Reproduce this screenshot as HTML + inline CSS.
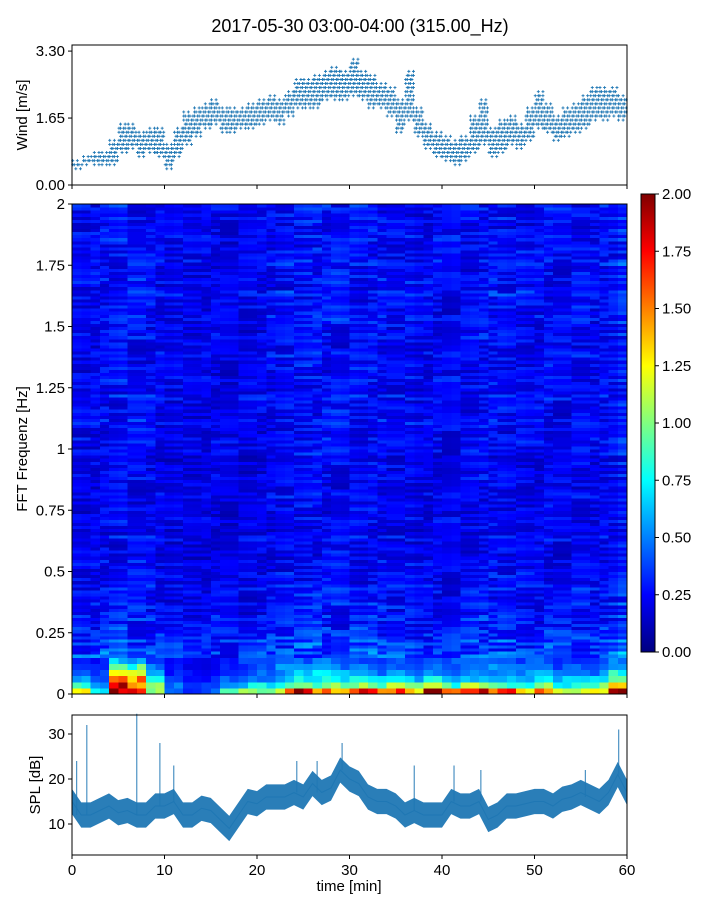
<!DOCTYPE html>
<html><head><meta charset="utf-8"><style>
body{margin:0;background:#fff;}
svg{display:block;font-family:"Liberation Sans","DejaVu Sans",sans-serif;}
</style></head><body>
<svg id="fig" width="720" height="900" viewBox="0 0 720 900" xmlns="http://www.w3.org/2000/svg">
<rect width="720" height="900" fill="#fff"/>
<text x="360" y="32" font-size="18" text-anchor="middle" fill="#000">2017-05-30 03:00-04:00 (315.00_Hz)</text>
<g id="wind"></g>
<g id="spec"></g>
<g id="cbar"></g>
<g id="spl"></g>
</svg>
<script>
// ---- data ----
const windMid=[0.5,0.6,0.6,0.65,0.8,1.1,1.2,1.0,1.1,1.0,0.7,1.0,1.4,1.5,1.7,1.75,1.6,1.55,1.65,1.7,1.8,1.9,1.8,2.0,2.2,2.2,2.3,2.4,2.5,2.4,2.6,2.4,2.3,2.2,2.0,1.7,2.2,1.5,1.2,1.0,0.9,0.8,0.9,1.2,1.5,1.0,1.2,1.3,1.2,1.5,1.8,1.6,1.4,1.5,1.6,1.8,2.0,2.0,2.0,1.9];
const windHalf=[0.1,0.1,0.15,0.15,0.3,0.35,0.3,0.3,0.3,0.35,0.35,0.35,0.4,0.35,0.3,0.3,0.3,0.3,0.25,0.3,0.3,0.3,0.3,0.3,0.35,0.35,0.35,0.35,0.4,0.35,0.45,0.35,0.35,0.3,0.35,0.4,0.6,0.35,0.35,0.3,0.3,0.3,0.3,0.45,0.55,0.35,0.4,0.35,0.35,0.4,0.45,0.35,0.3,0.35,0.35,0.4,0.4,0.4,0.35,0.3];
const splMin=[0,1,2,3,4,5,6,7,8,9,10,11,12,13,14,15,16,17,18,19,20,21,22,23,24,25,26,27,28,29,30,31,32,33,34,35,36,37,38,39,40,41,42,43,44,45,46,47,48,49,50,51,52,53,54,55,56,57,58,59,60];
const splMean=[15,12,12,13,14,12.5,13,12,12,14,14,15,12,12,13.5,13,11,9,12,15,14.5,16,16,16,17,16,19,17,18,22,20,19,16,15,15,14,12,13,12,12,12,15,14,14,15,11,12,14,14,14.5,15,15,14,15.5,16,17,16,15,17,21,17];
const splSpikeT=[0.5,1.6,7.0,9.5,11,24.3,26.5,29.2,37,41.3,44.2,55.5,59.1];
const splSpikeV=[24,32,34.5,28,23,24,24,28,23,23,22,22,31];
const freqTicks=[0,0.25,0.5,0.75,1,1.25,1.5,1.75,2];
const freqTickLabels=["0","0.25","0.5","0.75","1","1.25","1.5","1.75","2"];
const cbarTicks=["0.00","0.25","0.50","0.75","1.00","1.25","1.50","1.75","2.00"];
const row0=[1.1,0.8,2.0,2.0,1.0,0.5,0.3,0.4,0.8,1.0,0.9,1.4,1.9,1.6,1.5,1.9,1.6,1.7,1.3,1.9,1.4,1.6,1.8,1.5,1.4,1.6,1.3,1.1,1.4,1.9];
const row1=[0.9,0.6,1.8,1.6,1.0,0.45,0.3,0.35,0.5,0.7,0.7,0.9,1.1,1.0,1.0,1.1,0.9,1.0,0.9,1.1,0.9,1.0,1.1,0.9,0.9,1.0,0.8,0.8,0.9,1.2];
const row2=[0.55,0.45,1.5,1.4,0.7,0.35,0.25,0.3,0.4,0.5,0.5,0.65,0.75,0.8,0.7,0.7,0.65,0.7,0.65,0.7,0.65,0.65,0.7,0.6,0.65,0.7,0.6,0.6,0.65,0.9];
const row3=[0.4,0.35,1.1,1.1,0.55,0.3,0.25,0.25,0.35,0.4,0.45,0.55,0.65,0.65,0.6,0.55,0.5,0.5,0.5,0.55,0.5,0.5,0.55,0.5,0.5,0.55,0.45,0.45,0.5,0.75];
const row4=[0.3,0.3,0.9,0.9,0.45,0.3,0.22,0.22,0.3,0.35,0.4,0.5,0.5,0.55,0.5,0.45,0.45,0.45,0.45,0.45,0.45,0.45,0.5,0.45,0.45,0.45,0.4,0.4,0.45,0.6];
const row5=[0.28,0.28,0.6,0.6,0.38,0.28,0.22,0.22,0.28,0.35,0.35,0.42,0.45,0.45,0.45,0.4,0.4,0.4,0.4,0.4,0.4,0.4,0.42,0.4,0.4,0.4,0.36,0.36,0.4,0.5];
const rowBase=[0.38,0.34,0.35,0.31,
0.29,0.26,0.29,0.24,0.27,0.23,0.25,0.27,0.22,0.24,
0.21,0.24,0.19,0.22,0.2,0.25,0.18,0.21,0.23,0.19,0.22,0.2,0.24,0.19,0.21,0.23,0.2,0.22,0.18,0.24,
0.22,0.25,0.2,0.23,0.26,0.21,0.24,0.22,0.27,0.2,0.23,0.25,0.21,0.24,0.22,0.26,0.2,0.23,0.25,0.22,
0.24,0.27,0.22,0.25,0.23,0.28,0.21,0.26,0.24,0.22,0.27,0.23,0.25,0.22,0.26,0.24,0.21,0.25,0.23,0.26];
const colGain=[1.0,0.95,1.0,1.05,1.1,1.15,1.1,1.1,1.05,0.95,0.9,0.95,0.9,0.88,0.9,0.92,0.9,0.88,0.9,0.92,0.95,1.0,1.05,1.1,1.1,1.15,1.15,1.1,1.15,1.1,1.1,1.05,1.1,1.05,1.0,1.0,1.05,0.95,0.95,1.0,0.95,1.0,1.0,1.05,1.1,1.1,1.1,1.05,1.05,1.0,1.0,1.05,1.0,1.0,1.05,1.05,1.0,1.05,1.1,1.3];
const stripe=[0.3,-0.2,0.1,-0.35,0.25,0,-0.15,0.4,-0.3,0.15,-0.05,0.2,-0.25,0.35,-0.1,0.05,-0.4,0.2,0.1,-0.2,0.3,-0.3,0.15];
const lowRows=[row0,row1,row2,row3,row4,row5];

const NS="http://www.w3.org/2000/svg";
function el(tag,attrs,parent){const e=document.createElementNS(NS,tag);for(const k in attrs)e.setAttribute(k,attrs[k]);parent.appendChild(e);return e;}
const X0=72,X1=627;
const xs=t=>X0+(X1-X0)*t/60;
function jet(v){const x=Math.max(0,Math.min(1,v/2));const c=a=>Math.round(255*Math.max(0,Math.min(1,1.5-Math.abs(4*x-a))));return `rgb(${c(3)},${c(2)},${c(1)})`;}
function xTicks(g,y0,labels){for(let t=0;t<=60;t+=10){const x=xs(t);
 const tk=el('line',{x1:x,x2:x,y1:y0,y2:y0+4,stroke:'#000','stroke-width':1},g);
 if(labels){const tl=el('text',{x:x,y:y0+20,'font-size':15,'text-anchor':'middle'},g);tl.textContent=t;}}}
function frame(g,x,y,w,h){const f=el('rect',{x:x,y:y,width:w,height:h,fill:'none',stroke:'#000','stroke-width':1},g);}

// ---- wind ----
const gw=document.getElementById('wind');
const WY0=185,WY1=45,wy=v=>WY0-(WY0-WY1)*v/3.45;
for(let i=0;i<60;i++){for(let k=0;k<6;k++){const t=i+k/6+0.08;
 const lo=Math.round((windMid[i]-windHalf[i])*10),hi=Math.round((windMid[i]+windHalf[i])*10);
 for(let q=lo;q<=hi;q++){const edge=(q===lo||q===hi);if(edge&&((i+k+q)%3!==0))continue;if(!edge&&((i*3+k*5+q)%3===0))continue;
  const x=xs(t),y=wy(q/10);
  const p=el('path',{d:`M${x-1.5},${y}h3M${x},${y-1.5}v3`,stroke:'#1f77b4','stroke-width':0.9},gw);
  }}}
frame(gw,72,45,555,140);
[[0,'0.00'],[1.65,'1.65'],[3.3,'3.30']].forEach(([v,s])=>{const y=wy(v);
 const l=el('line',{x1:68,x2:72,y1:y,y2:y,stroke:'#000'},gw);
 const tx=el('text',{x:65,y:y+5,'font-size':15,'text-anchor':'end'},gw);tx.textContent=s;});
xTicks(gw,185,false);
const wl=el('text',{x:27,y:115,'font-size':15,'text-anchor':'middle',transform:'rotate(-90 27 115)'},gw);wl.textContent='Wind [m/s]';

// ---- spectrogram ----
const gs=document.getElementById('spec');
const SY0=694,SY1=204,fy=f=>SY0-(SY0-SY1)*f/2;
const nRows=6+rowBase.length,df=2/nRows;
for(let c=0;c<60;c++){for(let r=0;r<nRows;r++){
 const subs=r<6?1:2;
 for(let s=0;s<subs;s++){
 let v;if(r<6)v=lowRows[r][Math.floor(c/2)]*(1+0.45*stripe[(r*5+c*7)%stripe.length]);
 else v=rowBase[r-6]*colGain[c]*(1+1.2*stripe[(r*5+s*9+Math.floor(c/3)*11+Math.floor(c/2)*s*3)%stripe.length]);
 const y1=fy((r+(s+1)/subs)*df),y0=fy((r+s/subs)*df);
 const cell=el('rect',{x:xs(c),y:y1,width:xs(c+1)-xs(c)+0.5,height:y0-y1+0.5,fill:jet(v),'shape-rendering':'crispEdges'},gs);
 }}}
frame(gs,72,204,555,490);
freqTicks.forEach((f,i)=>{const y=fy(f);
 const l=el('line',{x1:68,x2:72,y1:y,y2:y,stroke:'#000'},gs);
 const tx=el('text',{x:65,y:y+5,'font-size':15,'text-anchor':'end'},gs);tx.textContent=freqTickLabels[i];});
xTicks(gs,694,false);
const sl=el('text',{x:27,y:449,'font-size':15,'text-anchor':'middle',transform:'rotate(-90 27 449)'},gs);sl.textContent='FFT Frequenz [Hz]';

// ---- colorbar ----
const gc=document.getElementById('cbar');
const defs=el('defs',{},gc);const lg=el('linearGradient',{id:'jetg',x1:0,y1:1,x2:0,y2:0},defs);
for(let i=0;i<=16;i++){el('stop',{offset:i/16,'stop-color':jet(2*i/16)},lg);}
const cb=el('rect',{x:641,y:194,width:14,height:458,fill:'url(#jetg)'},gc);
frame(gc,641,194,14,458);
cbarTicks.forEach((s,i)=>{const y=652-458*i/8;
 const l=el('line',{x1:655,x2:659,y1:y,y2:y,stroke:'#000'},gc);
 const tx=el('text',{x:662,y:y+5,'font-size':15},gc);tx.textContent=s;});

// ---- SPL ----
const gp=document.getElementById('spl');
const PY=v=>824-(v-10)*4.5;
let up='',dn='';
splMin.forEach((t,i)=>{up+=(i?'L':'M')+xs(t)+','+PY(splMean[i]+2.8);});
for(let i=splMin.length-1;i>=0;i--){dn+='L'+xs(splMin[i])+','+PY(splMean[i]-2.8);}
const band=el('path',{d:up+dn+'Z',fill:'#1f77b4','fill-opacity':0.95},gp);
let ln='';splMin.forEach((t,i)=>{ln+=(i?'L':'M')+xs(t)+','+PY(splMean[i]);});
const line=el('path',{d:ln,fill:'none',stroke:'#1f77b4','stroke-width':1},gp);
splSpikeT.forEach((t,i)=>{const base=splMean[Math.round(t)];
 const s=el('line',{x1:xs(t),x2:xs(t),y1:PY(base),y2:PY(splSpikeV[i]),stroke:'#1f77b4','stroke-width':1.2,'stroke-opacity':0.8},gp);});
frame(gp,72,715,555,140);
[10,20,30].forEach(v=>{const y=PY(v);
 const l=el('line',{x1:68,x2:72,y1:y,y2:y,stroke:'#000'},gp);
 const tx=el('text',{x:65,y:y+5,'font-size':15,'text-anchor':'end'},gp);tx.textContent=v;});
xTicks(gp,855,true);
const pl=el('text',{x:40,y:785,'font-size':15,'text-anchor':'middle',transform:'rotate(-90 40 785)'},gp);pl.textContent='SPL [dB]';
const xl=el('text',{x:349,y:891,'font-size':15,'text-anchor':'middle'},gp);xl.textContent='time [min]';
</script>
</body></html>
